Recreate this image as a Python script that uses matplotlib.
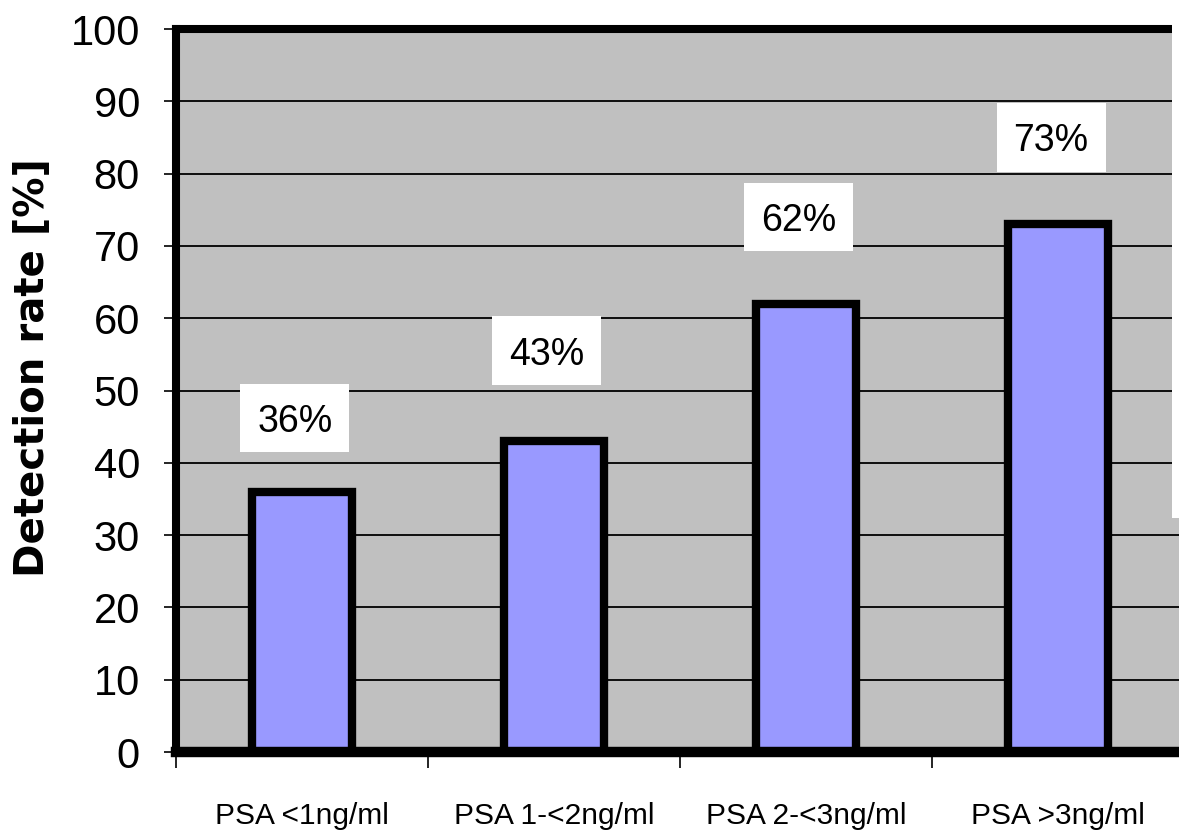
import matplotlib
matplotlib.use("Agg")
import matplotlib.pyplot as plt
from matplotlib.patches import Rectangle

# detection rate per PSA group
groups = ["PSA <1ng/ml", "PSA 1-<2ng/ml", "PSA 2-<3ng/ml", "PSA >3ng/ml"]
rates = [36, 43, 62, 73]
rate_labels = ["36%", "43%", "62%", "73%"]
y_ticks = [0, 10, 20, 30, 40, 50, 60, 70, 80, 90, 100]

# how far above each bar its label box sits (in % units)
label_gap = [10.2, 12.5, 12.0, 12.0]

plt.rcParams['font.family'] = ['Liberation Sans', 'DejaVu Sans']

fig = plt.figure(figsize=(11.79, 8.34), dpi=100)
ax = fig.add_axes([0.1493, 0.0983, 0.855, 0.8669])
ax.set_facecolor("#C0C0C0")

x = list(range(len(groups)))
ax.bar(x, rates, width=0.4, color="#9999FF", edgecolor="black", linewidth=6, zorder=2)

ax.set_xlim(-0.5, len(groups) - 0.5)
ax.set_ylim(0, 100)
ax.set_yticks(y_ticks)
ax.yaxis.grid(True, color="black", linewidth=1.3)
ax.set_axisbelow(True)

# white boxes with the value printed above each bar
box_w, box_h = 0.4325, 9.5
for xi, r, lab, gap in zip(x, rates, rate_labels, label_gap):
    cx, cy = xi - 0.028, r + gap
    ax.add_patch(Rectangle((cx - box_w / 2, cy - box_h / 2), box_w, box_h,
                           facecolor="white", edgecolor="none", zorder=3))
    ax.text(cx, cy, lab, ha="center", va="center_baseline", fontsize=27, zorder=4)

for side in ["left", "top"]:
    ax.spines[side].set_linewidth(5.8)
ax.spines["bottom"].set_linewidth(7.5)
ax.spines["right"].set_visible(False)

ax.tick_params(axis="y", direction="out", length=9, width=1.2, pad=17, labelsize=30)
ax.set_xticks(x)
ax.set_xticklabels(groups, fontsize=21.5)
ax.set_xticks([i - 0.5 for i in range(len(groups) + 1)], minor=True)
ax.tick_params(axis="x", which="major", length=0, pad=36)
ax.tick_params(axis="x", which="minor", length=11.5, width=1.2)

ax.set_ylabel("Detection rate [%]", fontsize=29, fontweight="bold", family="DejaVu Sans")
ax.yaxis.set_label_coords(-0.122, 0.532)

# blank strip at the top right corner
fig.patches.append(Rectangle((1172 / 1179, (834 - 518) / 834), 1, 1, transform=fig.transFigure,
                             facecolor="white", edgecolor="none", zorder=10))

fig.savefig("out.png", dpi=100)
